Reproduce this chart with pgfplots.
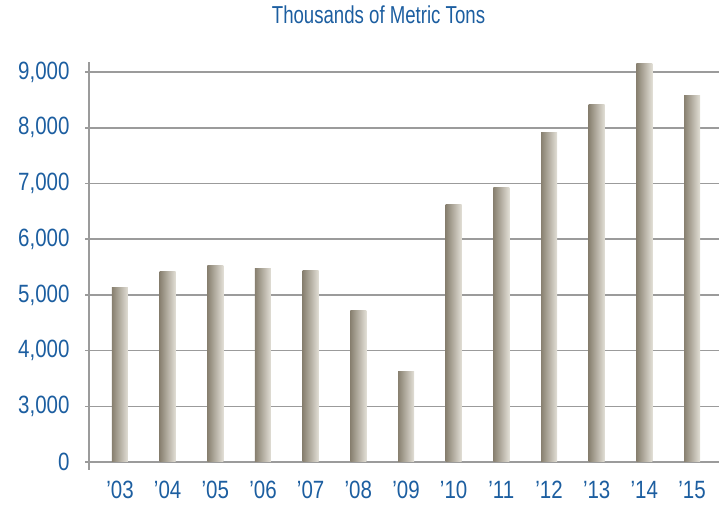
\documentclass[border=0pt]{standalone}
\usepackage{fontspec}
\setmainfont{Liberation Sans}[FakeStretch=0.76]
\newfontfamily\tickfont{Liberation Sans}[FakeStretch=0.82]
\usepackage{pgfplots}
\usepackage{pgfplotstable}
\pgfplotsset{compat=1.18}
\definecolor{tblue}{RGB}{28,94,160}
\definecolor{gridgray}{RGB}{155,155,155}
\definecolor{bardark}{RGB}{136,128,112}
\definecolor{barlight}{RGB}{226,223,214}
% values in thousands of metric tons; axis is broken between 0 and 3,000
\pgfplotstableread{
x v
0 5126
1 5413
2 5520
3 5467
4 5430
5 4713
6 3623
7 6630
8 6925
9 7921
10 8425
11 9160
12 8587
}\datatable
\begin{document}
\begin{tikzpicture}
\useasboundingbox (-89pt,-35pt) rectangle (630pt,470pt);
\begin{axis}[
  at={(0,0)}, anchor=south west,
  scale only axis, width=630pt, height=408pt,
  xmin=-0.65, xmax=12.566, ymin=-144, ymax=7181,
  axis lines*=left,
  x axis line style={draw=none},
  y axis line style={gridgray, line width=1.5pt},
  xtick={0,...,12},
  xticklabels={’03,’04,’05,’06,’07,’08,’09,’10,’11,’12,’13,’14,’15},
  ytick={0,1000,2000,3000,4000,5000,6000,7000},
  yticklabels={0,{3,000},{4,000},{5,000},{6,000},{7,000},{8,000},{9,000}},
  ymajorgrids,
  grid style={gridgray, line width=1.5pt},
  tick align=outside,
  major tick length=4pt,
  xtick style={draw=none},
  ytick style={gridgray, line width=1.5pt},
  tick label style={font=\tickfont\fontsize{25}{30}\selectfont, text=tblue},
  xticklabel style={yshift=-4pt},
  yticklabel style={xshift=-12pt},
  title={Thousands of Metric Tons},
  title style={at={(0.4595,1)}, anchor=base, yshift=32.7pt,
    font=\fontsize{24.5}{29}\selectfont, text=tblue},
  clip=false,
]
\pgfplotsinvokeforeach{0,...,12}{
  \addplot[ybar, bar width=16pt, bar shift=0pt, draw=none,
    left color=bardark, right color=barlight,
    restrict x to domain=#1:#1]
    table[x=x, y expr=\thisrow{v}-2000] {\datatable};
}
\end{axis}
\end{tikzpicture}
\end{document}
